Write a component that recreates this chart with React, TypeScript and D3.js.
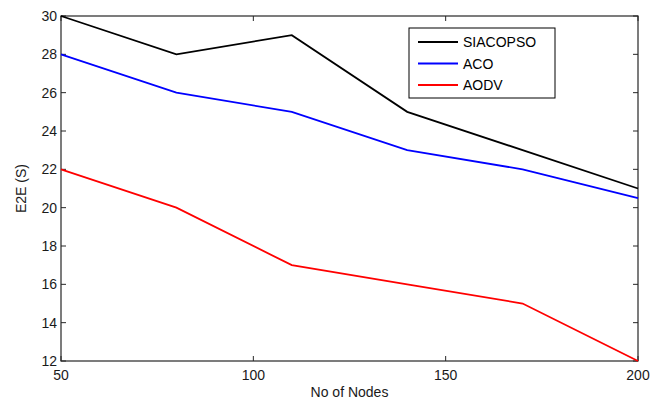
import * as d3 from 'd3';
import React, { useRef, useEffect } from 'react';

const nodes = [50, 80, 110, 140, 170, 200];
const siacopso = [30, 28, 29, 25, 23, 21];
const aco = [28, 26, 25, 23, 22, 20.5];
const aodv = [22, 20, 17, 16, 15, 12];
const seriesNames = ['SIACOPSO', 'ACO', 'AODV'];
const seriesColors = ['#000000', '#0000ff', '#ff0000'];
const xTicks = [50, 100, 150, 200];
const yTicks = [12, 14, 16, 18, 20, 22, 24, 26, 28, 30];

function Chart() {
  const ref = useRef(null);

  useEffect(() => {
    const svg = d3.select(ref.current);
    svg.selectAll('*').remove();

    const left = 61, right = 638, top = 16, bottom = 361;
    const font = 'Liberation Sans, Arial, sans-serif';

    const x = d3.scaleLinear().domain([50, 200]).range([left, right]);
    const y = d3.scaleLinear().domain([12, 30]).range([bottom, top]);

    svg.append('rect')
      .attr('width', 665).attr('height', 403).attr('fill', '#fff');

    // ticks on all four sides, pointing in
    const g = svg.append('g').attr('stroke', '#262626').attr('stroke-width', 1);
    xTicks.forEach(t => {
      g.append('line').attr('x1', x(t)).attr('x2', x(t)).attr('y1', bottom).attr('y2', bottom - 5);
      g.append('line').attr('x1', x(t)).attr('x2', x(t)).attr('y1', top).attr('y2', top + 5);
    });
    yTicks.forEach(t => {
      g.append('line').attr('x1', left).attr('x2', left + 5).attr('y1', y(t)).attr('y2', y(t));
      g.append('line').attr('x1', right).attr('x2', right - 5).attr('y1', y(t)).attr('y2', y(t));
    });

    svg.append('rect')
      .attr('x', left).attr('y', top)
      .attr('width', right - left).attr('height', bottom - top)
      .attr('fill', 'none').attr('stroke', '#262626').attr('stroke-width', 1.2);

    // tick labels
    svg.append('g').selectAll('text').data(xTicks).enter().append('text')
      .attr('x', d => x(d)).attr('y', bottom + 19)
      .attr('text-anchor', 'middle')
      .attr('font-family', font).attr('font-size', 14).attr('fill', '#1a1a1a')
      .text(d => d);

    svg.append('g').selectAll('text').data(yTicks).enter().append('text')
      .attr('x', left - 4).attr('y', d => y(d) + 5)
      .attr('text-anchor', 'end')
      .attr('font-family', font).attr('font-size', 14).attr('fill', '#1a1a1a')
      .text(d => d);

    svg.append('text')
      .attr('x', (left + right) / 2).attr('y', 397)
      .attr('text-anchor', 'middle')
      .attr('font-family', font).attr('font-size', 14).attr('fill', '#1a1a1a')
      .text('No of Nodes');

    svg.append('text')
      .attr('transform', `translate(26,${(top + bottom) / 2}) rotate(-90)`)
      .attr('text-anchor', 'middle')
      .attr('font-family', font).attr('font-size', 14).attr('fill', '#1a1a1a')
      .text('E2E (S)');

    const line = d3.line()
      .x((d, i) => x(nodes[i]))
      .y(d => y(d));

    [siacopso, aco, aodv].forEach((s, i) => {
      svg.append('path')
        .datum(s)
        .attr('d', line)
        .attr('fill', 'none')
        .attr('stroke', seriesColors[i])
        .attr('stroke-width', 1.8);
    });

    // legend
    const lg = svg.append('g');
    lg.append('rect')
      .attr('x', 409).attr('y', 28).attr('width', 146).attr('height', 70)
      .attr('fill', '#fff').attr('stroke', '#000').attr('stroke-width', 1);
    seriesNames.forEach((n, i) => {
      const ly = 42 + i * 21.5;
      lg.append('line')
        .attr('x1', 418).attr('x2', 458).attr('y1', ly).attr('y2', ly)
        .attr('stroke', seriesColors[i]).attr('stroke-width', 1.8);
      lg.append('text')
        .attr('x', 463).attr('y', ly + 5)
        .attr('font-family', font).attr('font-size', 14).attr('fill', '#000')
        .text(n);
    });
  }, []);

  return <svg ref={ref} width={665} height={403} style={{ display: 'block' }} />;
}

export default function App() {
  return (
    <div style={{ position: 'absolute', left: 0, top: 0 }}>
      <Chart />
    </div>
  );
}
